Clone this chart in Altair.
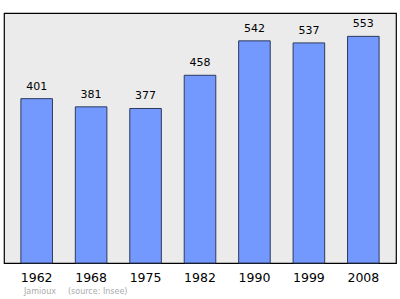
import altair as alt
import pandas as pd

years = ["1962", "1968", "1975", "1982", "1990", "1999", "2008"]
population = [401, 381, 377, 458, 542, 537, 553]

df = pd.DataFrame({"year": years, "pop": population})

x = alt.X(
    "year:N",
    sort=None,
    scale=alt.Scale(paddingInner=0.42, paddingOuter=0.31),
    axis=alt.Axis(
        title=None, labelAngle=0, domain=False, ticks=False,
        labelPadding=8, labelFontSize=12.5, labelColor="#000000",
        labelFont="DejaVu Sans",
    ),
)
y = alt.Y("pop:Q", scale=alt.Scale(domain=[0, 610], nice=False), axis=None)

bars = alt.Chart(df).mark_bar(
    color="#7399ff", stroke="#2e3a5c", strokeWidth=1
).encode(x=x, y=y)

labels = alt.Chart(df).mark_text(
    dy=-12, fontSize=11, font="DejaVu Sans", color="#000000"
).encode(x=x, y=y, text="pop:Q")

# author / source credit under the axis
credit = pd.DataFrame({"t": ["Jamioux", "(source: Insee)"], "px": [20, 64]})
footer = alt.Chart(credit).mark_text(
    align="left", baseline="middle", fontSize=8, font="DejaVu Sans",
    color="#aaaaaa"
).encode(
    x=alt.X("px:Q", scale=None), y=alt.value(279), text="t:N"
)

chart = (
    alt.layer(bars, labels, footer)
    .properties(
        width=392, height=250,
        autosize=alt.AutoSizeParams(type="none"),
        padding={"left": 4, "top": 13, "right": 4, "bottom": 36},
        background="#ffffff",
    )
    .configure_view(fill="#ebebeb", stroke="#000000", strokeWidth=1.2)
)

chart.save("out.html", embed_options={"renderer": "svg", "actions": False})
